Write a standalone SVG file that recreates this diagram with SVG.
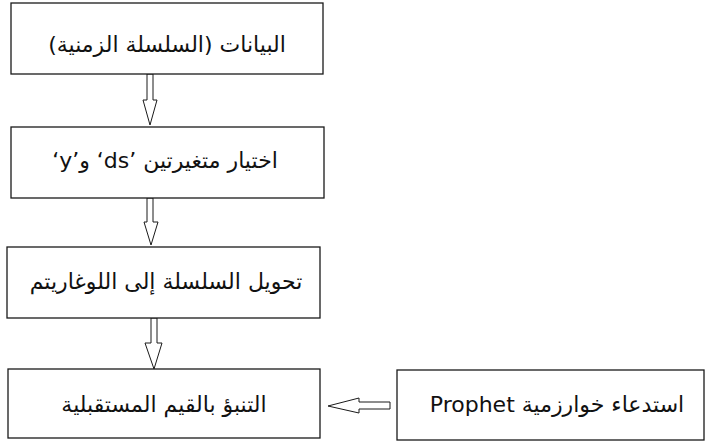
<svg xmlns="http://www.w3.org/2000/svg" width="705" height="444" viewBox="0 0 705 444">
<style>
.box{fill:#fff;stroke:#1a1a1a;stroke-width:1.3}
.arr{fill:#fff;stroke:#1a1a1a;stroke-width:1}
.t{font-family:"DejaVu Sans",sans-serif;font-size:22px;fill:#111;text-anchor:middle;direction:rtl}
</style>
<rect width="705" height="444" fill="#fff"/>
<g id="connectors">
<polygon class="arr" points="147,74 153,74 153,100 157,100 150,125 143,100 147,100"/>
<polygon class="arr" points="147,198 153,198 153,222 158,222 151,245 144,222 147,222"/>
<polygon class="arr" points="151,318 157,318 157,343 162,343 154,369 145,343 151,343"/>
<polygon class="arr" points="390,402 390,409 359,409 359,413 328,406 359,398 359,402"/>
</g>
<g id="n1"><rect class="box" x="11" y="3" width="312" height="71"/><text class="t" x="167" y="52">البيانات (السلسلة الزمنية)</text></g>
<g id="n2"><rect class="box" x="11" y="127" width="313" height="71"/><text class="t" x="165" y="168">اختيار متغيرتين &#x200E;‘ds’&#x200E; و&#x200E;‘y’&#x200E;</text></g>
<g id="n3"><rect class="box" x="7" y="247" width="313" height="71"/><text class="t" x="166" y="289">تحويل السلسلة إلى اللوغاريتم</text></g>
<g id="n4"><rect class="box" x="8" y="369" width="312" height="69"/><text class="t" x="164" y="412">التنبؤ بالقيم المستقبلية</text></g>
<g id="n5"><rect class="box" x="397" y="370" width="307" height="70"/><text class="t" x="557" y="412">استدعاء خوارزمية Prophet</text></g>
</svg>
